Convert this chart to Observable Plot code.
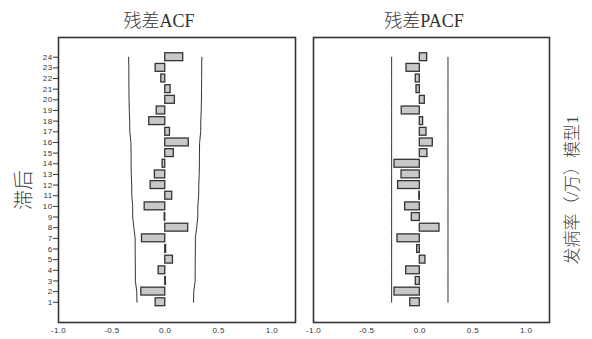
<!DOCTYPE html>
<html>
<head>
<meta charset="utf-8">
<script src="https://cdn.jsdelivr.net/npm/d3@7"></script>
<script src="https://cdn.jsdelivr.net/npm/@observablehq/plot@0.6"></script>
<style>
  html, body { margin: 0; padding: 0; background: #fff; }
  #wrap { position: relative; width: 592px; height: 339px; overflow: hidden; background: #fff; }
  .plot { position: absolute; top: 0; }
  .title { position: absolute; font-family: "Liberation Serif", "Noto Sans CJK SC", serif; font-size: 18px; font-weight: 300; color: #333; white-space: nowrap; transform: translate(-50%, -50%); }
  .vlabel { position: absolute; font-family: "Liberation Serif", "Noto Sans CJK SC", serif; font-weight: 300; color: #444; white-space: nowrap; transform: translate(-50%, -50%) rotate(-90deg); }
</style>
</head>
<body>
<div id="wrap">
  <div class="title" style="left:159px; top:19px;">残差ACF</div>
  <div class="title" style="left:424px; top:19px;">残差PACF</div>
  <div class="vlabel" style="left:22px; top:190px; font-size:20px;">滞后</div>
  <div class="vlabel" style="left:570px; top:190px; font-size:17px;">发病率（/万）模型1</div>
</div>
<script>
const lags = [1,2,3,4,5,6,7,8,9,10,11,12,13,14,15,16,17,18,19,20,21,22,23,24];
const acf = [-0.09,-0.224,0.006,-0.062,0.072,0.008,-0.218,0.215,-0.005,-0.193,0.065,-0.137,-0.097,-0.025,0.08,0.22,0.044,-0.15,-0.08,0.09,0.05,-0.037,-0.09,0.168];
const pacf = [-0.09,-0.238,-0.038,-0.128,0.053,-0.025,-0.21,0.185,-0.075,-0.138,-0.005,-0.204,-0.172,-0.238,0.072,0.122,0.063,0.031,-0.17,0.047,-0.031,-0.038,-0.125,0.069];
const acfLimit = [0.265,0.267,0.280,0.280,0.281,0.282,0.282,0.294,0.305,0.305,0.313,0.314,0.318,0.320,0.320,0.322,0.332,0.333,0.337,0.339,0.340,0.341,0.341,0.343];
const pacfLimit = [0.265,0.265,0.265,0.265,0.265,0.265,0.265,0.265,0.265,0.265,0.265,0.265,0.265,0.265,0.265,0.265,0.265,0.265,0.265,0.265,0.265,0.265,0.265,0.265];
const xTicks = [-1.0,-0.5,0.0,0.5,1.0];

const barHalf = 0.37;
const fmt = d => d.toFixed(1);

function panel(values, limits, opts) {
  const rows = lags.map((lag, i) => ({lag, v: values[i], lim: limits[i]}));
  const marks = [
    Plot.line(rows, {x: d => -d.lim, y: "lag", stroke: "#333", strokeWidth: 1}),
    Plot.line(rows, {x: "lim", y: "lag", stroke: "#333", strokeWidth: 1}),
    Plot.rectX(rows, {x1: 0, x2: "v", y1: d => d.lag - barHalf, y2: d => d.lag + barHalf, fill: "#c8c8c8", stroke: "#333", strokeWidth: 1.3}),
    Plot.frame({stroke: "#333", strokeWidth: 1.6}),
    Plot.axisX({ticks: xTicks, tickFormat: fmt, tickSize: 0, tickPadding: 5, fontSize: 8, fill: "#333", label: null})
  ];
  if (opts.yAxis) {
    marks.push(Plot.axisY({ticks: lags, tickFormat: d => String(d), tickSize: 5, tickPadding: 1, fontSize: 8, fill: "#333", stroke: "#333", label: null}));
  }
  return Plot.plot({
    width: opts.width,
    height: 339,
    marginLeft: opts.marginLeft,
    marginRight: opts.marginRight,
    marginTop: 37,
    marginBottom: 17,
    x: {domain: [-1, 1.22], axis: null},
    y: {domain: [-0.9, 25.85], axis: null},
    style: {fontFamily: "'Liberation Sans', Arial, sans-serif", background: "transparent", letterSpacing: "0.4px"},
    marks
  });
}

const wrap = document.getElementById("wrap");
const left = panel(acf, acfLimit, {width: 300, marginLeft: 58, marginRight: 5, yAxis: true});
left.classList.add("plot");
left.style.left = "0px";
wrap.appendChild(left);

const right = panel(pacf, pacfLimit, {width: 255, marginLeft: 13, marginRight: 6, yAxis: false});
right.classList.add("plot");
right.style.left = "300px";
wrap.appendChild(right);
</script>
</body>
</html>
